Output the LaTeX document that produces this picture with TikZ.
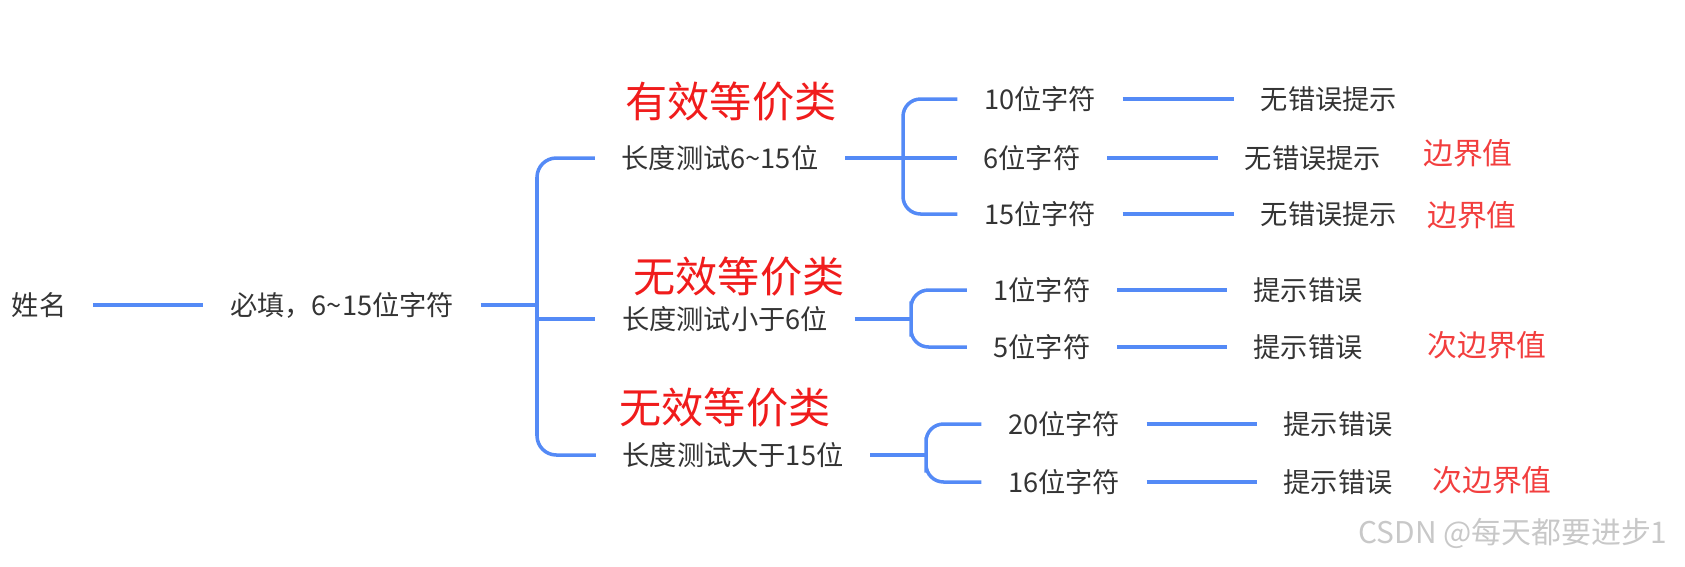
\documentclass[tikz,border=0pt]{standalone}
\usepackage{fontspec}
\setmainfont{Noto Sans CJK SC}
\usetikzlibrary{positioning}
\definecolor{MapBlue}{RGB}{84,138,246}
\definecolor{MapRed}{RGB}{240,28,28}
\definecolor{MapText}{RGB}{52,52,52}
\definecolor{MapMark}{RGB}{200,200,200}
\tikzset{
  topic/.style={inner xsep=15pt, inner ysep=2pt, text=MapText, font=\fontsize{15.5}{18}\selectfont},
  cls/.style={inner sep=0pt, text=MapRed, font=\fontsize{24}{28}\selectfont},
  bound/.style={inner sep=0pt, text=MapRed!85, font=\fontsize{17}{20}\selectfont},
  wmark/.style={inner sep=0pt, text=MapMark, font=\fontsize{17}{20}\selectfont},
  link/.style={draw=MapBlue, line width=2pt},
}

\begin{document}
\begin{tikzpicture}[x=0.02cm, y=-0.02cm]
  \useasboundingbox (0,0) rectangle (1685,566);
  % root and first branch
  \node[topic] (name) at (39,305) {姓名};
  \node[topic] (must) at (342,305) {必填，6\textasciitilde15位字符};
  \coordinate (hub) at (537,305);
  % length tests
  \node[topic] (len1) at (720,158) {长度测试6\textasciitilde15位};
  \node[topic] (len2) at (725,319) {长度测试小于6位};
  \node[topic] (len3) at (733,455) {长度测试大于15位};
  \node[cls] (valid) at (731,102) {有效等价类};
  \node[cls] (invalidA) at (739,277) {无效等价类};
  \node[cls] (invalidB) at (725,408) {无效等价类};
  \coordinate (j1) at (903,158);
  \coordinate (j2) at (911,319);
  \coordinate (j3) at (926,455);
  % cases
  \node[topic] (c10) at (1040,99) {10位字符};
  \node[topic] (c6) at (1032,158) {6位字符};
  \node[topic] (c15) at (1040,214) {15位字符};
  \node[topic] (c1) at (1042,290) {1位字符};
  \node[topic] (c5) at (1042,347) {5位字符};
  \node[topic] (c20) at (1064,424) {20位字符};
  \node[topic] (c16) at (1064,482) {16位字符};
  % results
  \node[topic] (r10) at (1329,99) {无错误提示};
  \node[topic] (r6) at (1313,158) {无错误提示};
  \node[topic] (r15) at (1329,214) {无错误提示};
  \node[topic] (r1) at (1308,290) {提示错误};
  \node[topic] (r5) at (1308,347) {提示错误};
  \node[topic] (r20) at (1338,424) {提示错误};
  \node[topic] (r16) at (1338,482) {提示错误};
  \node[bound] (b6) at (1468,153) {边界值};
  \node[bound] (b15) at (1472,215) {边界值};
  \node[bound] (b5) at (1487,345) {次边界值};
  \node[bound] (b16) at (1492,480) {次边界值};
  \node[wmark] (credit) at (1513,533) {CSDN @每天都要进步1};

  \draw[link] (name.east) -- (must.west);
  \draw[link] (must.east) -- (hub);
  \draw[link, rounded corners=11pt] (len1.west) -| (hub) |- (len3.west);
  \draw[link] (hub |- len2) -- (len2.west);

  \draw[link] (len1.east) -- (c6.west);
  \draw[link, rounded corners=10pt] (c10.west) -| (j1) |- (c15.west);
  \draw[link] (len2.east) -- (j2);
  \draw[link, rounded corners=10pt] (c1.west) -| (j2) |- (c5.west);
  \draw[link] (len3.east) -- (j3);
  \draw[link, rounded corners=10pt] (c20.west) -| (j3) |- (c16.west);

  \foreach \a/\b in {c10/r10, c6/r6, c15/r15, c1/r1, c5/r5, c20/r20, c16/r16}
    \draw[link] (\a.east) -- (\b.west);
\end{tikzpicture}
\end{document}
